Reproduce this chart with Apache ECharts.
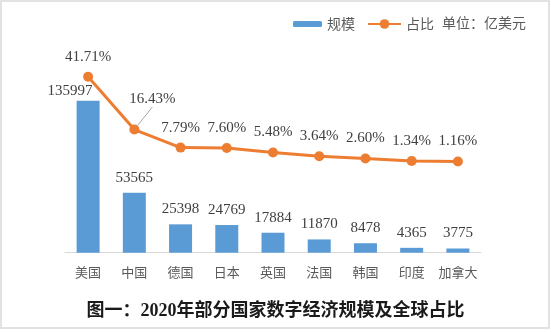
<!DOCTYPE html>
<html>
<head>
<meta charset="utf-8">
<script src="https://cdn.jsdelivr.net/npm/echarts@6/dist/echarts.min.js"></script>
<style>
html,body{margin:0;padding:0;background:#fff;}
#c{width:551px;height:332px;}
</style>
</head>
<body>
<div id="c"></div>
<script>
const categories = ['美国','中国','德国','日本','英国','法国','韩国','印度','加拿大'];
const scaleValues = [135997, 53565, 25398, 24769, 17884, 11870, 8478, 4365, 3775];
const shareValues = [41.71, 16.43, 7.79, 7.60, 5.48, 3.64, 2.60, 1.34, 1.16];
const titleText = '图一：2020年部分国家数字经济规模及全球占比';
const unitText = '单位：亿美元';

const serif = '"Liberation Serif", "Times New Roman", serif';
const cjk = '"Noto Sans CJK SC", sans-serif';

const barData = scaleValues.map((v, i) => i === 0
  ? { value: v, label: { offset: [-18, 5] } }
  : v);
const lineData = shareValues.map((v, i) => i === 1
  ? { value: v, labelLine: { show: true, lineStyle: { color: '#a6a6a6', width: 1 } } }
  : v);

const chart = echarts.init(document.getElementById('c'), null, { renderer: 'canvas' });
chart.setOption({
  animation: false,
  backgroundColor: '#fff',
  title: {
    text: titleText,
    left: 'center',
    top: 302,
    padding: 0,
    textStyle: { fontSize: 18, fontWeight: 'bold', color: '#1a1a1a', fontFamily: serif + ', "Noto Sans CJK SC"' }
  },
  legend: [
    {
      data: ['规模'], left: 293, top: 17, padding: 0, itemWidth: 29, itemHeight: 6,
      textStyle: { fontSize: 14, color: '#595959', fontFamily: cjk }
    },
    {
      data: ['占比'], left: 367, top: 17, padding: 0, itemWidth: 33, itemHeight: 12,
      textStyle: { fontSize: 14, color: '#595959', fontFamily: cjk }
    }
  ],
  graphic: [
    {
      type: 'rect', shape: { x: 1, y: 1, width: 548, height: 327 },
      style: { fill: 'none', stroke: '#d9d9d9', lineWidth: 1.5 }, silent: true
    },
    {
      type: 'text', left: 442, top: 16,
      style: { text: unitText, fontSize: 14, fill: '#595959', fontFamily: cjk }
    }
  ],
  grid: { left: 65, right: 70, top: 74, bottom: 79.3 },
  xAxis: {
    type: 'category',
    data: categories,
    axisLine: { lineStyle: { color: '#d9d9d9', width: 1 } },
    axisTick: { show: false },
    axisLabel: { interval: 0, margin: 12.5, fontSize: 13, color: '#595959', fontFamily: cjk }
  },
  yAxis: [
    { type: 'value', min: 0, max: 160000, show: false, splitLine: { show: false } },
    { type: 'value', min: -42.5, max: 43, show: false, splitLine: { show: false } }
  ],
  series: [
    {
      name: '规模', type: 'bar', data: barData, barWidth: 23,
      itemStyle: { color: '#5B9BD5' },
      label: { show: true, position: 'top', distance: 7.5, fontSize: 15, color: '#404040', fontFamily: serif }
    },
    {
      name: '占比', type: 'line', yAxisIndex: 1, data: lineData,
      symbol: 'circle', symbolSize: 10,
      lineStyle: { color: '#ED7D31', width: 3 },
      itemStyle: { color: '#ED7D31' },
      label: {
        show: true, position: 'top', distance: 7.5, fontSize: 15, color: '#404040', fontFamily: serif,
        formatter: p => p.value.toFixed(2) + '%'
      },
      labelLayout: function (params) {
        if (params.dataIndex === 1) return { dx: 18, dy: -10 };
        return {};
      },
      z: 5
    }
  ]
});
</script>
</body>
</html>
